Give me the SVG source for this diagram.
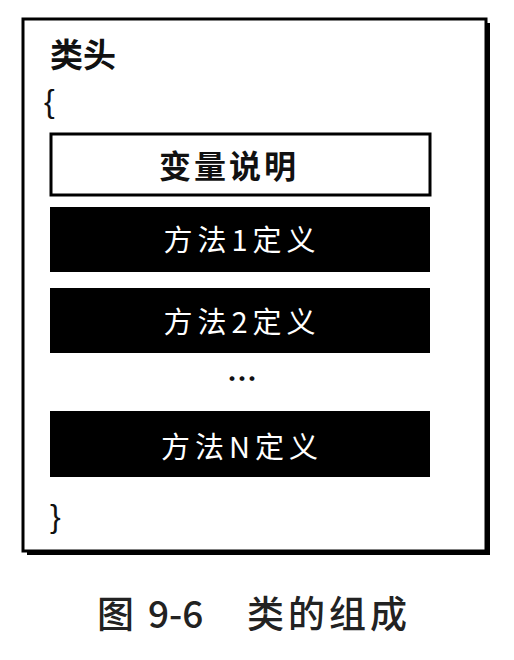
<svg xmlns="http://www.w3.org/2000/svg" width="514" height="660" viewBox="0 0 514 660">
<style>
.cjk{font-family:"Noto Sans CJK SC","Liberation Sans",sans-serif;}
.blk{fill:#000;}
.wt{fill:#fff;font-size:29px;letter-spacing:5px;text-anchor:middle;}
.cap{font-size:37px;fill:#222;font-weight:500;}
</style>
<rect width="514" height="660" fill="#fff"/>
<g id="class">
<rect x="27" y="23" width="463" height="532" fill="#000"/>
<rect x="23" y="19" width="463" height="532" fill="#fff" stroke="#000" stroke-width="3"/>
<text class="cjk" x="50" y="67" font-size="33" font-weight="bold" fill="#111">类头</text>
<text x="44" y="112" font-family="Liberation Sans,sans-serif" font-size="32" fill="#111">{</text>
<text x="50" y="527" font-family="Liberation Sans,sans-serif" font-size="32" fill="#111">}</text>
</g>
<g id="vars">
<rect x="51" y="134" width="379" height="61" fill="#fff" stroke="#000" stroke-width="3"/>
<text class="cjk" x="229" y="178" font-size="32" font-weight="bold" letter-spacing="3" text-anchor="middle" fill="#111">变量说明</text>
</g>
<g id="m1">
<rect class="blk" x="50" y="207" width="380" height="65"/>
<text class="cjk wt" x="242" y="251">方法1定义</text>
</g>
<g id="m2">
<rect class="blk" x="50" y="288" width="380" height="65"/>
<text class="cjk wt" x="242" y="333">方法2定义</text>
</g>
<text class="cjk" x="242" y="390" font-size="30" font-weight="bold" text-anchor="middle" fill="#111">…</text>
<g id="mN">
<rect class="blk" x="50" y="411" width="380" height="66"/>
<text class="cjk wt" x="242" y="458">方法N定义</text>
</g>
<g id="connectors"></g>
<text class="cjk cap" x="97" y="628">图</text>
<text class="cjk cap" x="148" y="628">9-6</text>
<text class="cjk cap" x="247" y="628" letter-spacing="4">类的组成</text>
</svg>
